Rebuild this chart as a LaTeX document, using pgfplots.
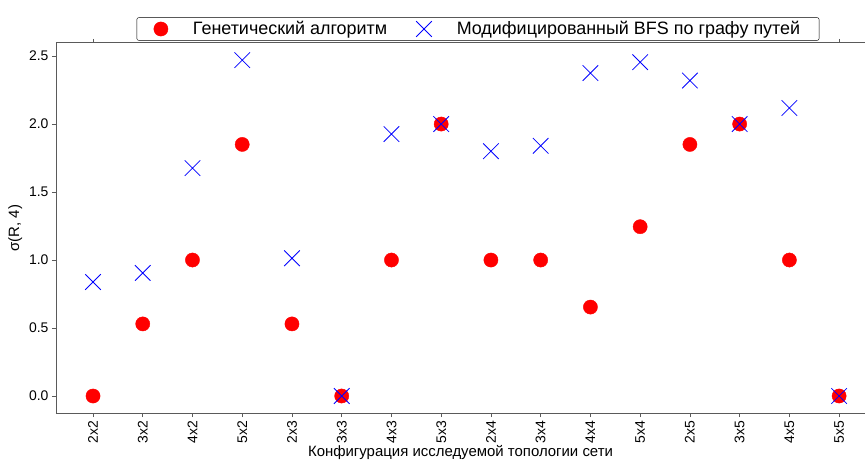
\documentclass[border=0pt]{standalone}
\usepackage{pgfplots}
\pgfplotsset{compat=1.18}
\usepackage{fontspec}
\setmainfont{Liberation Sans}
\definecolor{spine}{HTML}{5A5A5A}
\pgfplotsset{myleg/.style={legend image code/.code={\draw[mark repeat=2, mark phase=2, ##1] plot coordinates {(0bp,0bp) (28bp,0bp) (45bp,0bp)};}}}
\begin{document}
\begin{tikzpicture}
\useasboundingbox (-56bp,-47bp) rectangle (809bp,413bp);
\begin{axis}[
  scale only axis, width=809bp, height=370bp,
  xmin=-0.744, xmax=15.52, ymin=-0.125, ymax=2.596,
  axis x line*=top, axis y line=none,
  axis line style={spine, line width=1pt, -},
  xtick={0,15}, xticklabels={},
  tick align=outside, major tick length=4bp,
  tick style={spine, line width=0.8pt},
]
\addplot[draw=none] coordinates {(0,0)};
\end{axis}
\begin{axis}[
  scale only axis, width=809bp, height=370bp,
  xmin=-0.744, xmax=15.52, ymin=-0.125, ymax=2.596,
  axis x line*=bottom, axis y line*=left,
  axis line style={spine, line width=1pt, -},
  xtick={0,...,15},
  xticklabels={2x2,3x2,4x2,5x2,2x3,3x3,4x3,5x3,2x4,3x4,4x4,5x4,2x5,3x5,4x5,5x5},
  xticklabel style={rotate=90, anchor=east, font=\fontsize{14}{14}\selectfont},
  ytick={0,0.5,...,2.5},
  yticklabel style={/pgf/number format/.cd, fixed, fixed zerofill, precision=1, /tikz/.cd, font=\fontsize{14}{14}\selectfont},
  /pgf/number format/assume math mode=true,
  tick align=outside, major tick length=4bp,
  tick style={spine, line width=0.8pt},
  xlabel={Конфигурация исследуемой топологии сети},
  ylabel={σ(R, 4)},
  label style={font=\fontsize{15}{15}\selectfont},
  xlabel style={at={(axis description cs:0.5,0)}, anchor=base, yshift=-43bp},
  legend columns=2,
  legend style={at={(0.5216,1.0378)}, anchor=center, draw=black, rounded corners=2pt,
    font=\fontsize{18}{18}\selectfont,
    /tikz/every odd column/.append style={column sep=23bp},
    /tikz/every even column/.append style={column sep=27bp},
    inner xsep=17bp, inner ysep=2bp},
  legend cell align=left,
  clip=false,
]
\addplot[only marks, mark=*, mark size=7.1bp, color=red, mark options={fill=red, draw=red}, myleg]
  coordinates {(0,0) (1,0.53) (2,1.0) (3,1.85) (4,0.53) (5,0) (6,1.0) (7,2.0) (8,1.0) (9,1.0) (10,0.654) (11,1.245) (12,1.85) (13,2.0) (14,1.0) (15,0)};
\addlegendentry{Генетический алгоритм}
\addplot[only marks, mark=x, mark size=11bp, color=blue, mark options={line width=0.8pt}, myleg]
  coordinates {(0,0.838) (1,0.905) (2,1.676) (3,2.47) (4,1.013) (5,0) (6,1.926) (7,2.0) (8,1.80) (9,1.84) (10,2.375) (11,2.455) (12,2.32) (13,2.0) (14,2.118) (15,0)};
\addlegendentry{Модифицированный BFS по графу путей}
\end{axis}
\end{tikzpicture}
\end{document}
